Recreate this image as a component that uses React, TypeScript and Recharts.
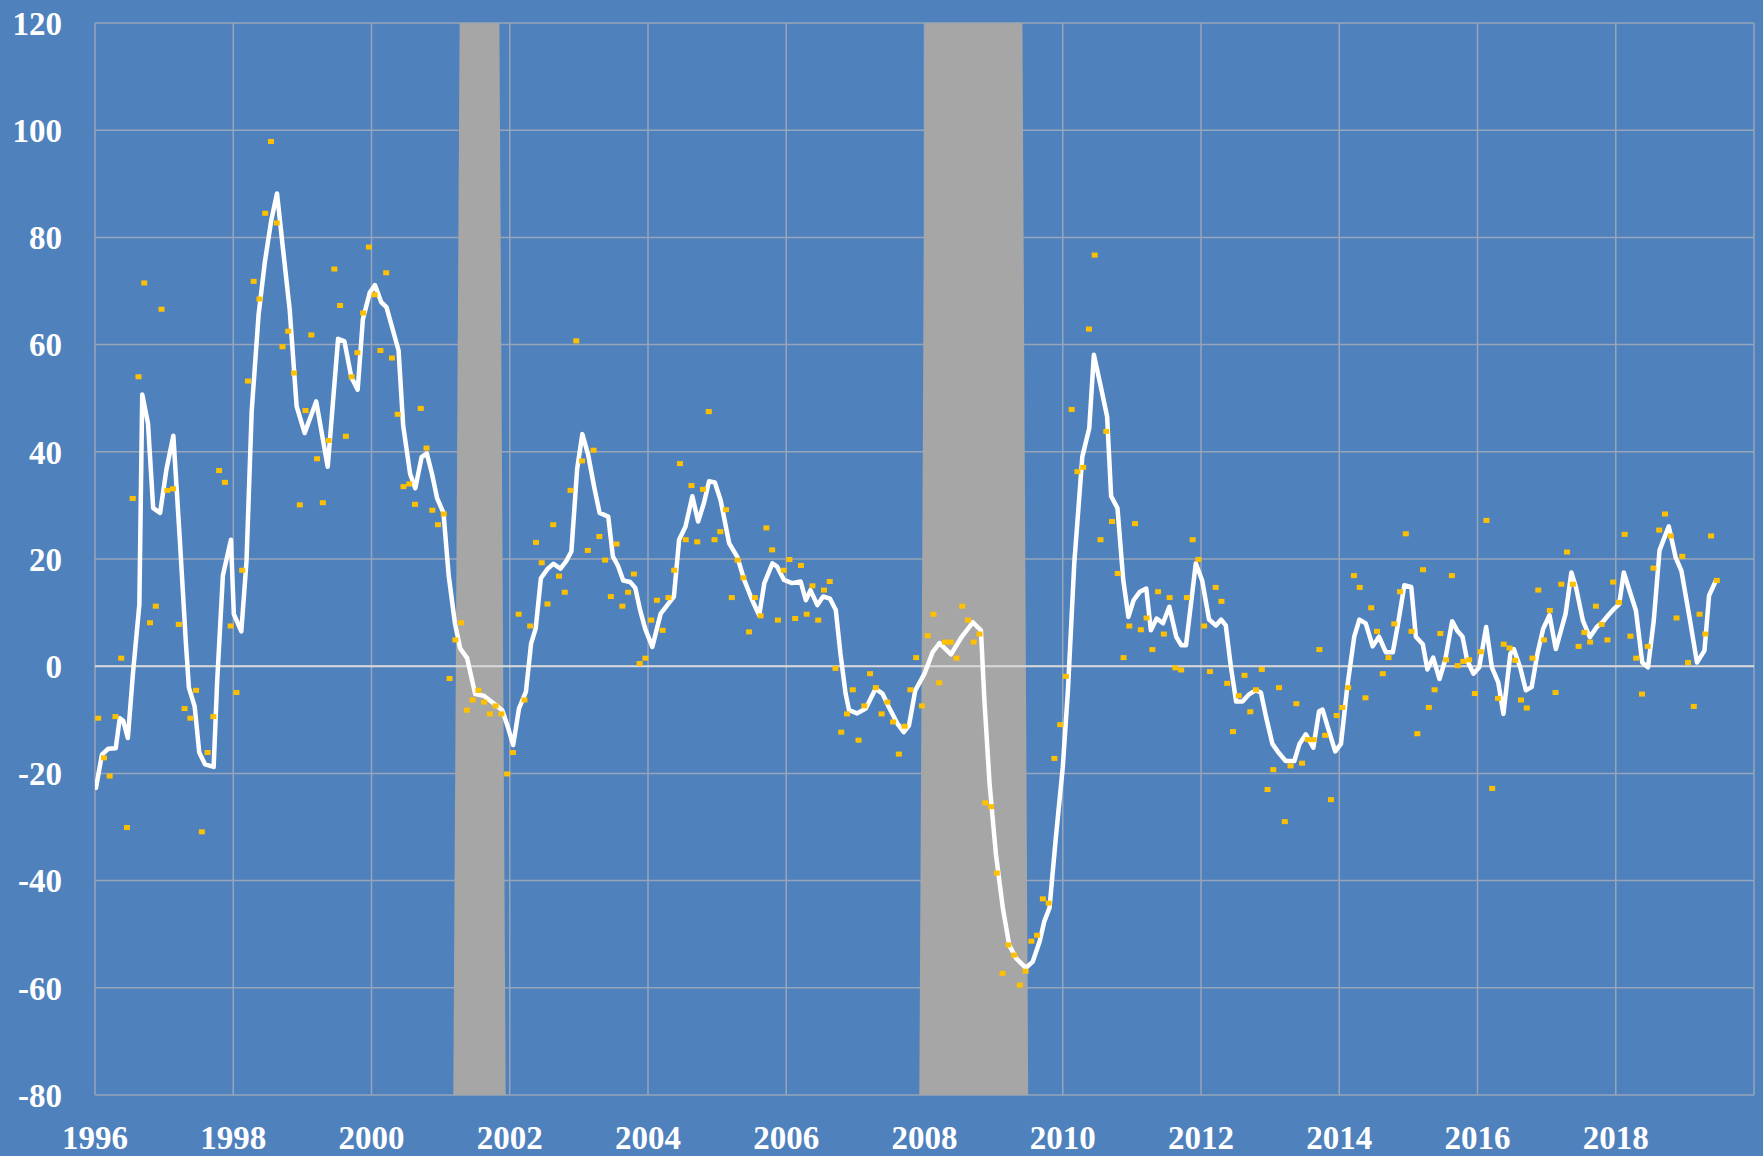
import { ComposedChart, Area, Line, Scatter, XAxis, YAxis, CartesianGrid, ReferenceLine } from "recharts"

const START_YEAR = 1996
const Y_MIN = -80
const Y_MAX = 120

// monthly readings (gold dots), Jan 1996 - Jun 2019, one row per year
const monthlyValues = [
  -9.7, -17.1, -20.5, -9.4, 1.5, -30.1, 31.3, 54.0, 71.5, 8.1, 11.2, 66.6,
  32.8, 33.1, 7.8, -7.9, -9.7, -4.5, -30.9, -16.1, -9.4, 36.5, 34.3, 7.5,
  -4.9, 17.9, 53.2, 71.8, 68.5, 84.5, 97.9, 82.7, 59.6, 62.5, 54.7, 30.1,
  47.7, 61.8, 38.7, 30.5, 42.1, 74.1, 67.3, 42.9, 54.0, 58.5, 65.9, 78.2,
  69.3, 58.9, 73.4, 57.5, 47.0, 33.5, 34.0, 30.2, 48.1, 40.7, 29.1, 26.4,
  28.4, -2.3, 4.9, 8.1, -8.2, -6.3, -4.5, -6.7, -8.9, -7.4, -8.9, -20.1,
  -16.1, 9.7, -6.3, 7.5, 23.1, 19.3, 11.6, 26.4, 16.8, 13.8, 32.8, 60.7,
  38.3, 21.6, 40.3, 24.2, 19.8, 13.0, 22.8, 11.2, 13.8, 17.2, 0.5, 1.5,
  8.6, 12.3, 6.7, 12.8, 17.9, 37.8, 23.6, 33.7, 23.2, 33.0, 47.5, 23.6,
  25.1, 29.2, 12.8, 19.8, 16.5, 6.4, 12.8, 9.4, 25.8, 21.7, 8.6, 17.9,
  19.9, 8.9, 18.8, 9.7, 15.0, 8.6, 14.2, 15.8, -0.4, -12.3, -8.9, -4.4,
  -13.8, -7.4, -1.4, -4.0, -8.9, -6.7, -10.4, -16.4, -11.2, -4.4, 1.6, -7.4,
  5.7, 9.7, -3.1, 4.5, 4.5, 1.5, 11.2, 8.6, 4.5, 6.0, -25.5, -26.2,
  -38.6, -57.3, -52.0, -53.9, -59.5, -56.9, -51.3, -50.2, -43.4, -44.2, -17.2, -10.9,
  -1.9, 47.9, 36.3, 37.1, 62.9, 76.7, 23.6, 43.8, 27.0, 17.3, 1.6, 7.5,
  26.6, 6.8, 9.0, 3.1, 13.9, 6.0, 12.8, -0.3, -0.7, 12.8, 23.6, 19.9,
  7.5, -1.0, 14.7, 12.1, -3.2, -12.2, -5.5, -1.7, -8.5, -4.4, -0.6, -23.0,
  -19.3, -4.0, -29.0, -18.6, -7.0, -18.1, -13.7, -13.7, 3.1, -12.9, -24.9, -9.2,
  -7.7, -4.0, 16.9, 14.7, -5.9, 10.9, 6.5, -1.4, 1.6, 7.9, 13.9, 24.7,
  6.5, -12.6, 18.0, -7.7, -4.4, 6.1, 1.2, 16.9, 0.1, 0.9, 1.2, -5.1,
  2.7, 27.2, -22.8, -6.0, 4.1, 3.4, 1.1, -6.3, -7.8, 1.5, 14.2, 4.9,
  10.4, -4.9, 15.3, 21.3, 15.3, 3.7, 6.3, 4.5, 11.2, 7.8, 4.9, 15.7,
  11.9, 24.6, 5.6, 1.5, -5.2, 3.7, 18.3, 25.4, 28.4, 24.3, 9.0, 20.5,
  0.7, -7.5, 9.7, 6.0, 24.3, 16.0,
]

// white trend line: [months since Jan 1996, value]
const trendPoints: [number, number][] = [
  [0.17, -22.7], [1.2, -16.5], [2.3, -15.4], [3.6, -15.3], [4.3, -9.7], [4.9, -10.2], [5.7, -13.4],
  [6.6, -1.2], [7.7, 11.5], [8.2, 50.7], [9.2, 45.3], [10.1, 29.5], [11.3, 28.6],
  [12.4, 36.7], [13.6, 43.0], [14.7, 24.1], [15.8, 4.0], [16.3, -4.0], [17.3, -7.5], [18.1, -16.1],
  [19.1, -18.3], [20.6, -18.8], [21.2, -3.0], [22.2, 16.9], [23.6, 23.6],
  [24.1, 9.7], [25.4, 6.5], [26.3, 19.6], [27.2, 47.6], [28.4, 65.6], [29.5, 75.5], [30.6, 83.2],
  [31.6, 88.2], [32.6, 78.2], [33.8, 66.5], [35.0, 48.5],
  [36.4, 43.5], [38.4, 49.4], [40.4, 37.2], [42.2, 61.1], [43.3, 60.6], [44.5, 53.9], [45.6, 51.6],
  [46.5, 64.7], [47.7, 69.7],
  [48.6, 71.1], [49.7, 67.9], [50.6, 67.0], [52.7, 58.9], [53.5, 44.9], [54.7, 35.9], [55.6, 33.2],
  [56.7, 39.0], [57.6, 39.7], [58.5, 35.9], [59.4, 31.3],
  [60.5, 28.6], [61.4, 16.9], [62.5, 7.9], [63.4, 3.3], [64.6, 1.5], [66.0, -5.2], [67.5, -5.5],
  [69.3, -7.0], [70.7, -8.2], [71.6, -11.1],
  [72.6, -14.7], [73.6, -7.9], [74.8, -4.8], [75.7, 4.2], [76.5, 7.0], [77.4, 16.4], [78.6, 18.2],
  [79.6, 19.1], [80.8, 18.2], [81.8, 19.6], [82.7, 21.4], [83.7, 36.8],
  [84.6, 43.3], [85.6, 39.5], [86.7, 33.2], [87.6, 28.6], [89.1, 27.9], [89.9, 20.5], [90.8, 18.7],
  [91.7, 16.0], [92.9, 15.7], [93.8, 14.6], [94.6, 10.6], [95.5, 7.0],
  [96.75, 3.6], [98.2, 9.8], [100.5, 13.0], [101.4, 23.6], [102.5, 26.0], [103.7, 31.7], [104.7, 27.0],
  [105.7, 30.4], [106.6, 34.5], [107.6, 34.3],
  [108.6, 31.0], [110.1, 22.9], [111.5, 20.4], [112.7, 16.1], [114.1, 12.3], [115.3, 9.5], [116.2, 15.5],
  [117.6, 19.2], [118.4, 18.6], [119.6, 16.1],
  [121.0, 15.5], [122.5, 15.8], [123.4, 12.3], [124.2, 14.2], [125.4, 11.4], [126.4, 13.0], [127.6, 12.6],
  [128.6, 10.5], [129.4, 2.4], [130.3, -5.1], [130.9, -8.2],
  [132.3, -8.8], [133.8, -7.9], [135.5, -4.2], [136.7, -5.1], [137.8, -7.6], [139.3, -10.7], [140.4, -12.3],
  [141.3, -11.1], [142.4, -4.5],
  [144.0, -1.4], [145.4, 2.6], [146.6, 4.3], [148.6, 2.2], [150.4, 5.4], [152.4, 8.2], [153.8, 6.7],
  [154.4, -6.4], [155.3, -22.0],
  [156.4, -35.1], [157.6, -45.1], [158.7, -52.0], [159.9, -54.5], [161.6, -56.3], [162.8, -55.1],
  [164.0, -51.3], [164.8, -47.6], [165.7, -45.1], [166.8, -32.0],
  [168.0, -18.9], [168.9, -4.5], [170.0, 19.2], [171.4, 39.1], [172.6, 44.4], [173.4, 58.1], [174.6, 52.2],
  [175.7, 46.6], [176.4, 31.7], [177.5, 29.5], [178.5, 16.1], [179.4, 9.2],
  [180.3, 12.3], [181.4, 13.9], [182.5, 14.5], [183.3, 6.7], [184.3, 8.9], [185.4, 8.0], [186.5, 11.1],
  [187.7, 5.5], [188.6, 3.9], [189.4, 3.9], [191.1, 19.2],
  [192.2, 16.0], [193.4, 8.7], [194.6, 7.6], [195.5, 8.7], [196.3, 7.6], [197.2, -0.2], [198.1, -6.6],
  [199.2, -6.6], [200.4, -5.2], [201.5, -4.5], [202.4, -4.9], [203.3, -9.5],
  [204.4, -14.5], [205.6, -16.3], [206.7, -17.7], [208.2, -17.7], [209.1, -14.5], [210.2, -12.7],
  [211.5, -15.2], [212.5, -8.4], [213.1, -8.1], [214.3, -12.4], [215.3, -15.9],
  [216.3, -14.5], [217.4, -3.8], [218.6, 5.5], [219.5, 8.7], [220.6, 8.0], [221.8, 3.7], [222.9, 5.5],
  [224.1, 2.6], [225.3, 2.6], [226.1, 7.3], [227.3, 15.1],
  [228.5, 14.8], [229.3, 5.5], [230.5, 4.1], [231.3, -0.6], [232.3, 1.6], [233.4, -2.4], [234.4, 1.2],
  [235.6, 8.4], [236.5, 6.6], [237.4, 5.5], [238.2, 1.1], [239.3, -1.4],
  [240.3, -0.2], [241.5, 7.3], [242.5, -0.2], [243.6, -3.0], [244.5, -8.9], [245.7, 2.3], [246.3, 3.2],
  [247.4, -0.2], [248.4, -4.5], [249.4, -3.9], [250.4, 2.3], [251.4, 7.0],
  [252.5, 9.5], [253.6, 3.2], [255.3, 9.8], [256.3, 17.5], [257.1, 14.7], [258.3, 8.5], [259.5, 5.4],
  [260.7, 7.3], [261.7, 8.2], [262.7, 9.5], [263.7, 10.7],
  [264.6, 11.6], [265.4, 17.5], [266.3, 14.4], [267.5, 10.4], [268.6, 0.7], [269.6, -0.2], [270.6, 8.5],
  [271.6, 21.6], [273.2, 26.1], [274.4, 20.3], [275.4, 17.8],
  [276.8, 9.1], [278.1, 0.7], [279.4, 2.9], [280.2, 13.2], [281.4, 16.0],
]

// recession shading: months since Jan 1996 where the band ramps up / down
const recessionMonths = [
  [62.2, 63.3, 70.2, 71.3],
  [143.1, 144.1, 161.0, 162.0],
]

const xTicks = [1996, 1998, 2000, 2002, 2004, 2006, 2008, 2010, 2012, 2014, 2016, 2018, 2020]
const yTicks = [-80, -60, -40, -20, 0, 20, 40, 60, 80, 100, 120]

const toYear = (m: number) => START_YEAR + m / 12

const dotData = monthlyValues.map((v, k) => ({ x: toYear(k + 0.55), y: v }))
const trendData = trendPoints.map(([m, v]) => ({ x: toYear(m), y: v }))
const recessionData = recessionMonths.flatMap(([a, b, c, d]) => [
  { x: toYear(a), y: Y_MIN },
  { x: toYear(b), y: Y_MAX },
  { x: toYear(c), y: Y_MAX },
  { x: toYear(d), y: Y_MIN },
])

const tickStyle = {
  fill: '#ffffff',
  fontSize: 33,
  fontWeight: 'bold' as const,
  fontFamily: '"Liberation Serif", "DejaVu Serif", serif',
}

const Square = (props: any) => (
  <rect x={props.cx - 3} y={props.cy - 2.5} width={6} height={5} fill="#FFC000" />
)

export default function App() {
  return (
    <div style={{ position: 'absolute', left: 0, top: 0, width: 1763, height: 1156, background: '#4F81BD' }}>
      <ComposedChart width={1763} height={1156} margin={{ top: 23, right: 9, bottom: 0, left: 0 }}>
        <CartesianGrid stroke="#97A5BA" strokeWidth={1.5} />
        <XAxis
          type="number"
          dataKey="x"
          domain={[1996, 2020]}
          ticks={xTicks}
          allowDataOverflow
          height={61}
          axisLine={false}
          tickLine={false}
          tickSize={0}
          tickMargin={31}
          tick={tickStyle}
          tickFormatter={(v: number) => (v === 2020 ? '' : String(v))}
        />
        <YAxis
          type="number"
          dataKey="y"
          domain={[Y_MIN, Y_MAX]}
          ticks={yTicks}
          allowDataOverflow
          width={95}
          axisLine={false}
          tickLine={false}
          tickSize={0}
          tickMargin={33}
          tick={tickStyle}
        />
        <Area
          data={recessionData}
          dataKey="y"
          type="linear"
          baseValue={Y_MIN}
          fill="#A6A6A6"
          fillOpacity={1}
          stroke="none"
          isAnimationActive={false}
        />
        <ReferenceLine y={0} stroke="#D9D9D9" strokeWidth={2} />
        <Line
          data={trendData}
          dataKey="y"
          type="linear"
          stroke="#ffffff"
          strokeWidth={4.5}
          strokeLinejoin="round"
          strokeLinecap="round"
          dot={false}
          activeDot={false}
          isAnimationActive={false}
        />
        <Scatter data={dotData} dataKey="y" shape={Square} isAnimationActive={false} />
      </ComposedChart>
    </div>
  )
}
